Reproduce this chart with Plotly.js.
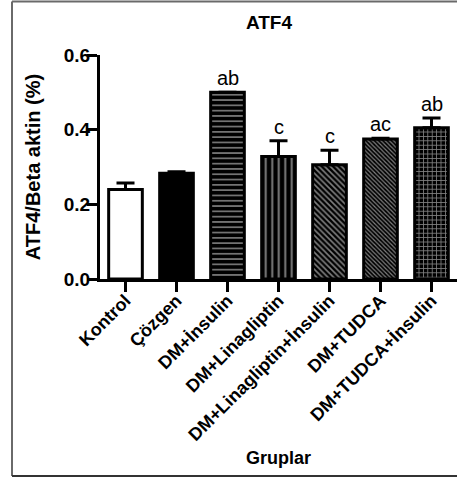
<!DOCTYPE html>
<html>
<head>
<meta charset="utf-8">
<script src="https://cdn.plot.ly/plotly-3.0.1.min.js"></script>
<style>html,body{margin:0;padding:0;background:#fff;}#chart{width:457px;height:479px;}</style>
</head>
<body>
<div id="chart"></div>
<script>
const categories = ['Kontrol', 'Çözgen', 'DM+İnsulin', 'DM+Linagliptin', 'DM+Linagliptin+İnsulin', 'DM+TUDCA', 'DM+TUDCA+İnsulin'];
const values = [0.240, 0.283, 0.500, 0.328, 0.306, 0.375, 0.405];
const errors = [0.017, 0.004, 0.0, 0.042, 0.039, 0.002, 0.026];
const sigLabels = ['', '', 'ab', 'c', 'c', 'ac', 'ab'];
const yTicks = [0, 0.2, 0.4, 0.6];

const FONT = 'Liberation Sans, Arial, Helvetica, sans-serif';

const trace = {
  type: 'bar',
  x: categories,
  y: values,
  width: 0.66,
  marker: {
    color: ['#ffffff', '#000000', '#000000', '#000000', '#000000', '#000000', '#000000'],
    line: {color: '#000000', width: 3},
    pattern: {
      fillmode: 'overlay',
      shape: ['', '', '-', '|', '\\', '\\', '+'],
      fgcolor: '#ffffff',
      size: [6, 6, 5.3, 6.5, 4, 3, 4.4],
      solidity: [0.3, 0.3, 0.3, 0.3, 0.4, 0.4, 0.35]
    }
  },
  error_y: {
    type: 'data',
    symmetric: false,
    array: errors,
    arrayminus: errors.map(() => 0),
    color: '#000000',
    thickness: 3,
    width: 9
  },
  hoverinfo: 'none'
};

const annotations = categories.map((c, i) => ({
  x: c,
  y: values[i] + errors[i],
  text: sigLabels[i],
  showarrow: false,
  xref: 'x', yref: 'y',
  yanchor: 'bottom',
  yshift: 1,
  font: {family: FONT, size: 20, color: '#000000'}
})).filter(a => a.text !== '');

annotations.push({
  text: 'Gruplar',
  xref: 'paper', yref: 'paper',
  x: 0.5, y: (279 - 458) / 224,
  xanchor: 'center', yanchor: 'middle',
  showarrow: false,
  font: {family: FONT, size: 18, weight: 'bold', color: '#000000'}
});

const layout = {
  width: 457,
  height: 479,
  margin: {l: 100, r: 0, t: 55, b: 200, pad: 0},
  paper_bgcolor: '#ffffff',
  plot_bgcolor: '#ffffff',
  showlegend: false,
  title: {
    text: 'ATF4',
    font: {family: FONT, size: 19, weight: 'bold', color: '#000000'},
    x: 269 / 457, xanchor: 'center', xref: 'container',
    y: 1 - 22 / 479, yanchor: 'middle', yref: 'container'
  },
  xaxis: {
    type: 'category',
    range: [-0.5, 6.5],
    showline: true, linecolor: '#000000', linewidth: 3,
    ticks: 'outside', ticklen: 10, tickwidth: 3, tickcolor: '#000000',
    tickangle: -45,
    ticklabelstandoff: -9,
    tickfont: {family: FONT, size: 18, weight: 'bold', color: '#000000'},
    showgrid: false, zeroline: false,
    automargin: false
  },
  yaxis: {
    range: [0, 0.6],
    tickvals: yTicks,
    tickformat: '.1f',
    showline: true, linecolor: '#000000', linewidth: 3,
    ticks: 'outside', ticklen: 10, tickwidth: 3, tickcolor: '#000000',
    ticklabelstandoff: -7,
    tickfont: {family: FONT, size: 19, weight: 'bold', color: '#000000'},
    showgrid: false, zeroline: false,
    automargin: false,
    title: {text: 'ATF4/Beta aktin (%)', font: {family: FONT, size: 20, weight: 'bold', color: '#000000'}, standoff: 18}
  },
  annotations: annotations,
  shapes: [
    {type: 'line', xref: 'paper', yref: 'paper', x0: (12 - 100) / 357, x1: (12 - 100) / 357, y0: (279 - 476) / 224, y1: (279 - 1.5) / 224, line: {color: '#6a6a6a', width: 2}},
    {type: 'line', xref: 'paper', yref: 'paper', x0: (12 - 100) / 357, x1: (462 - 100) / 357, y0: (279 - 1.5) / 224, y1: (279 - 1.5) / 224, line: {color: '#6a6a6a', width: 2}},
    {type: 'line', xref: 'paper', yref: 'paper', x0: (12 - 100) / 357, x1: (462 - 100) / 357, y0: (279 - 476) / 224, y1: (279 - 476) / 224, line: {color: '#333333', width: 2}}
  ]
};

Plotly.newPlot('chart', [trace], layout, {displayModeBar: false, staticPlot: true});
</script>
</body>
</html>
